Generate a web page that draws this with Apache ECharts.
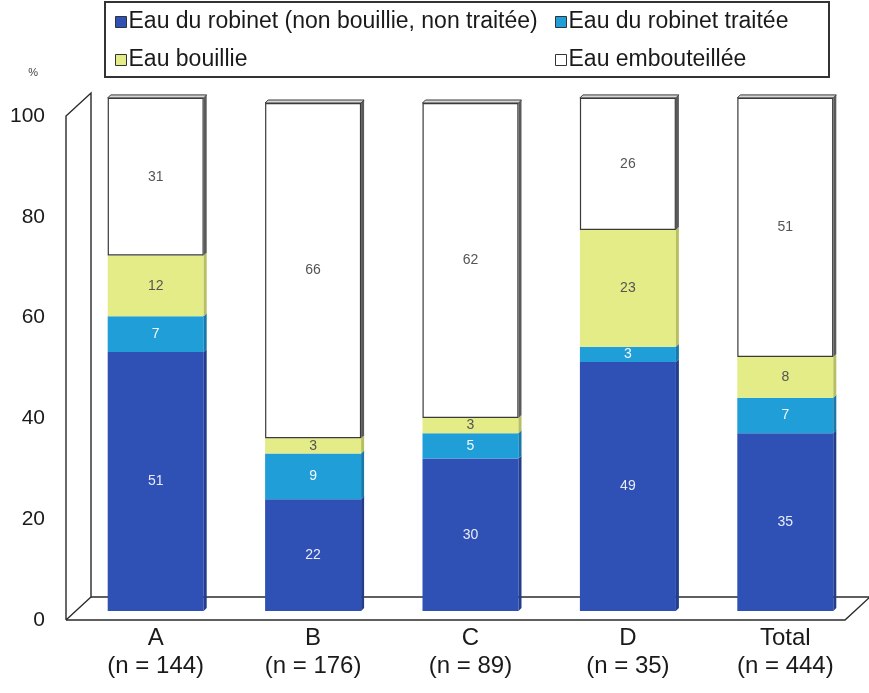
<!DOCTYPE html>
<html>
<head>
<meta charset="utf-8">
<script src="https://cdn.jsdelivr.net/npm/echarts@6/dist/echarts.min.js"></script>
<style>
  html, body { margin: 0; padding: 0; background: #fff; }
  #chart { width: 869px; height: 693px; }
</style>
</head>
<body>
<div id="chart"></div>
<script>
// Water source by group (% of households)
const categories = ['A', 'B', 'C', 'D', 'Total'];
const sampleSizes = [144, 176, 89, 35, 444];
const seriesNames = [
  'Eau du robinet (non bouillie, non traitée)',
  'Eau du robinet traitée',
  'Eau bouillie',
  'Eau embouteillée'
];
const tapRaw = [51, 22, 30, 49, 35];
const tapTreated = [7, 9, 5, 3, 7];
const boiled = [12, 3, 3, 23, 8];
const bottled = [31, 66, 62, 26, 51];
const yTicks = [0, 20, 40, 60, 80, 100];

const layers = [tapRaw, tapTreated, boiled, bottled];
const fills = ['#2f50b4', '#1f9ed8', '#e4ec88', '#ffffff'];
const sideFills = ['#223d8c', '#1679a8', '#b8bf62', '#5a5a5a'];
const labelColors = ['#e8ecf6', '#f2f8fc', '#555555', '#555555'];

const FONT = "'Liberation Sans', Arial, sans-serif";
const BAR_W = 96;
const DEPTH_X = 3, DEPTH_Y = 3;

const chart = echarts.init(document.getElementById('chart'), null, { renderer: 'canvas' });

const barSeries = layers.map((vals, k) => ({
  name: seriesNames[k],
  type: 'bar',
  stack: 'total',
  xAxisIndex: 0,
  yAxisIndex: 0,
  barWidth: BAR_W,
  clip: false,
  z: 3,
  data: vals,
  itemStyle: {
    color: fills[k],
    borderColor: k === 3 ? '#3a3a3a' : fills[k],
    borderWidth: k === 3 ? 1.2 : 0
  },
  label: {
    show: true,
    position: 'inside',
    fontSize: 14,
    fontFamily: FONT,
    color: labelColors[k]
  },
  emphasis: { disabled: true }
}));

// thin right-side and top faces giving each stacked column its depth
const depthData = categories.map((c, i) => [i, tapRaw[i], tapTreated[i], boiled[i], bottled[i]]);
const depthSeries = {
  type: 'custom',
  xAxisIndex: 0,
  yAxisIndex: 0,
  z: 4,
  silent: true,
  clip: false,
  data: depthData,
  renderItem: function (params, api) {
    const idx = api.value(0);
    const children = [];
    let base = 0;
    let topY = null, xL = null, xR = null;
    for (let k = 0; k < 4; k++) {
      const v = api.value(k + 1);
      const p0 = api.coord([idx, base]);
      const p1 = api.coord([idx, base + v]);
      xL = p0[0] - BAR_W / 2;
      xR = p0[0] + BAR_W / 2;
      children.push({
        type: 'polygon',
        shape: { points: [[xR, p0[1]], [xR + DEPTH_X, p0[1] - DEPTH_Y], [xR + DEPTH_X, p1[1] - DEPTH_Y], [xR, p1[1]]] },
        style: { fill: sideFills[k] }
      });
      base += v;
      topY = p1[1];
    }
    children.push({
      type: 'polygon',
      shape: { points: [[xL, topY], [xL + DEPTH_X, topY - DEPTH_Y], [xR + DEPTH_X, topY - DEPTH_Y], [xR, topY]] },
      style: { fill: '#d8d8d8', stroke: '#3a3a3a', lineWidth: 1 }
    });
    return { type: 'group', children: children };
  }
};

const legendBase = {
  orient: 'vertical',
  top: 5,
  itemWidth: 11, itemHeight: 11, itemGap: 14,
  icon: 'rect',
  itemStyle: { borderColor: '#333', borderWidth: 1 },
  textStyle: { fontSize: 23, lineHeight: 24, fontFamily: FONT, color: '#1a1a1a', padding: [0, 0, 0, -3] },
  selectedMode: false
};

chart.setOption({
  animation: false,
  backgroundColor: '#ffffff',
  legend: [
    Object.assign({}, legendBase, { data: [seriesNames[0], seriesNames[2]], left: 110 }),
    Object.assign({}, legendBase, { data: [seriesNames[1], seriesNames[3]], left: 550 })
  ],
  grid: [
    { left: 77, right: 5, top: 103, bottom: 82 },
    { left: 66, right: 24, top: 116, bottom: 73 }
  ],
  xAxis: [
    {
      type: 'category',
      gridIndex: 0,
      data: categories,
      axisLine: { show: false },
      axisTick: { show: false },
      axisLabel: {
        margin: 13,
        fontSize: 24,
        lineHeight: 28,
        fontFamily: FONT,
        color: '#1a1a1a',
        formatter: function (v, i) { return v + '\n(n = ' + sampleSizes[i] + ')'; }
      }
    },
    { type: 'value', gridIndex: 1, min: 0, max: 1, show: false }
  ],
  yAxis: [
    { type: 'value', gridIndex: 0, min: 0, max: 100, show: false },
    {
      type: 'value',
      gridIndex: 1,
      min: yTicks[0],
      max: yTicks[yTicks.length - 1],
      interval: yTicks[1] - yTicks[0],
      name: '%',
      nameLocation: 'end',
      nameGap: 38,
      nameTextStyle: { fontSize: 11, color: '#444', align: 'right', padding: [0, 28, 0, 0], fontFamily: FONT },
      axisLine: { show: false },
      axisTick: { show: false },
      splitLine: { show: false },
      axisLabel: { margin: 21, fontSize: 21, color: '#1a1a1a', fontFamily: FONT }
    }
  ],
  series: barSeries.concat([depthSeries])
});

// 3D frame: side wall and floor, placed from the front-plane axis
function drawFrame() {
  const f00 = chart.convertToPixel({ gridIndex: 1 }, [0, 0]);
  const f0T = chart.convertToPixel({ gridIndex: 1 }, [0, 100]);
  const f10 = chart.convertToPixel({ gridIndex: 1 }, [1, 0]);
  const dx = 25, dy = 23;
  const lineStyle = { stroke: '#2a2a2a', lineWidth: 1.4, fill: null };
  chart.setOption({
    graphic: [
      {
        type: 'rect', z: 0,
        shape: { x: 105, y: 2, width: 724, height: 75 },
        style: { stroke: '#333', lineWidth: 2, fill: null }
      },
      {
        type: 'polyline', z: 0,
        shape: { points: [[f00[0], f00[1]], [f0T[0], f0T[1]], [f0T[0] + dx, f0T[1] - dy], [f00[0] + dx, f00[1] - dy], [f00[0], f00[1]]] },
        style: lineStyle
      },
      {
        type: 'polyline', z: 0,
        shape: { points: [[f00[0], f00[1]], [f10[0], f10[1]], [f10[0] + dx, f10[1] - dy]] },
        style: lineStyle
      },
      {
        type: 'polyline', z: 0,
        shape: { points: [[f00[0] + dx, f00[1] - dy], [f10[0] + dx + 10, f10[1] - dy]] },
        style: lineStyle
      }
    ]
  });
}
drawFrame();
</script>
</body>
</html>
